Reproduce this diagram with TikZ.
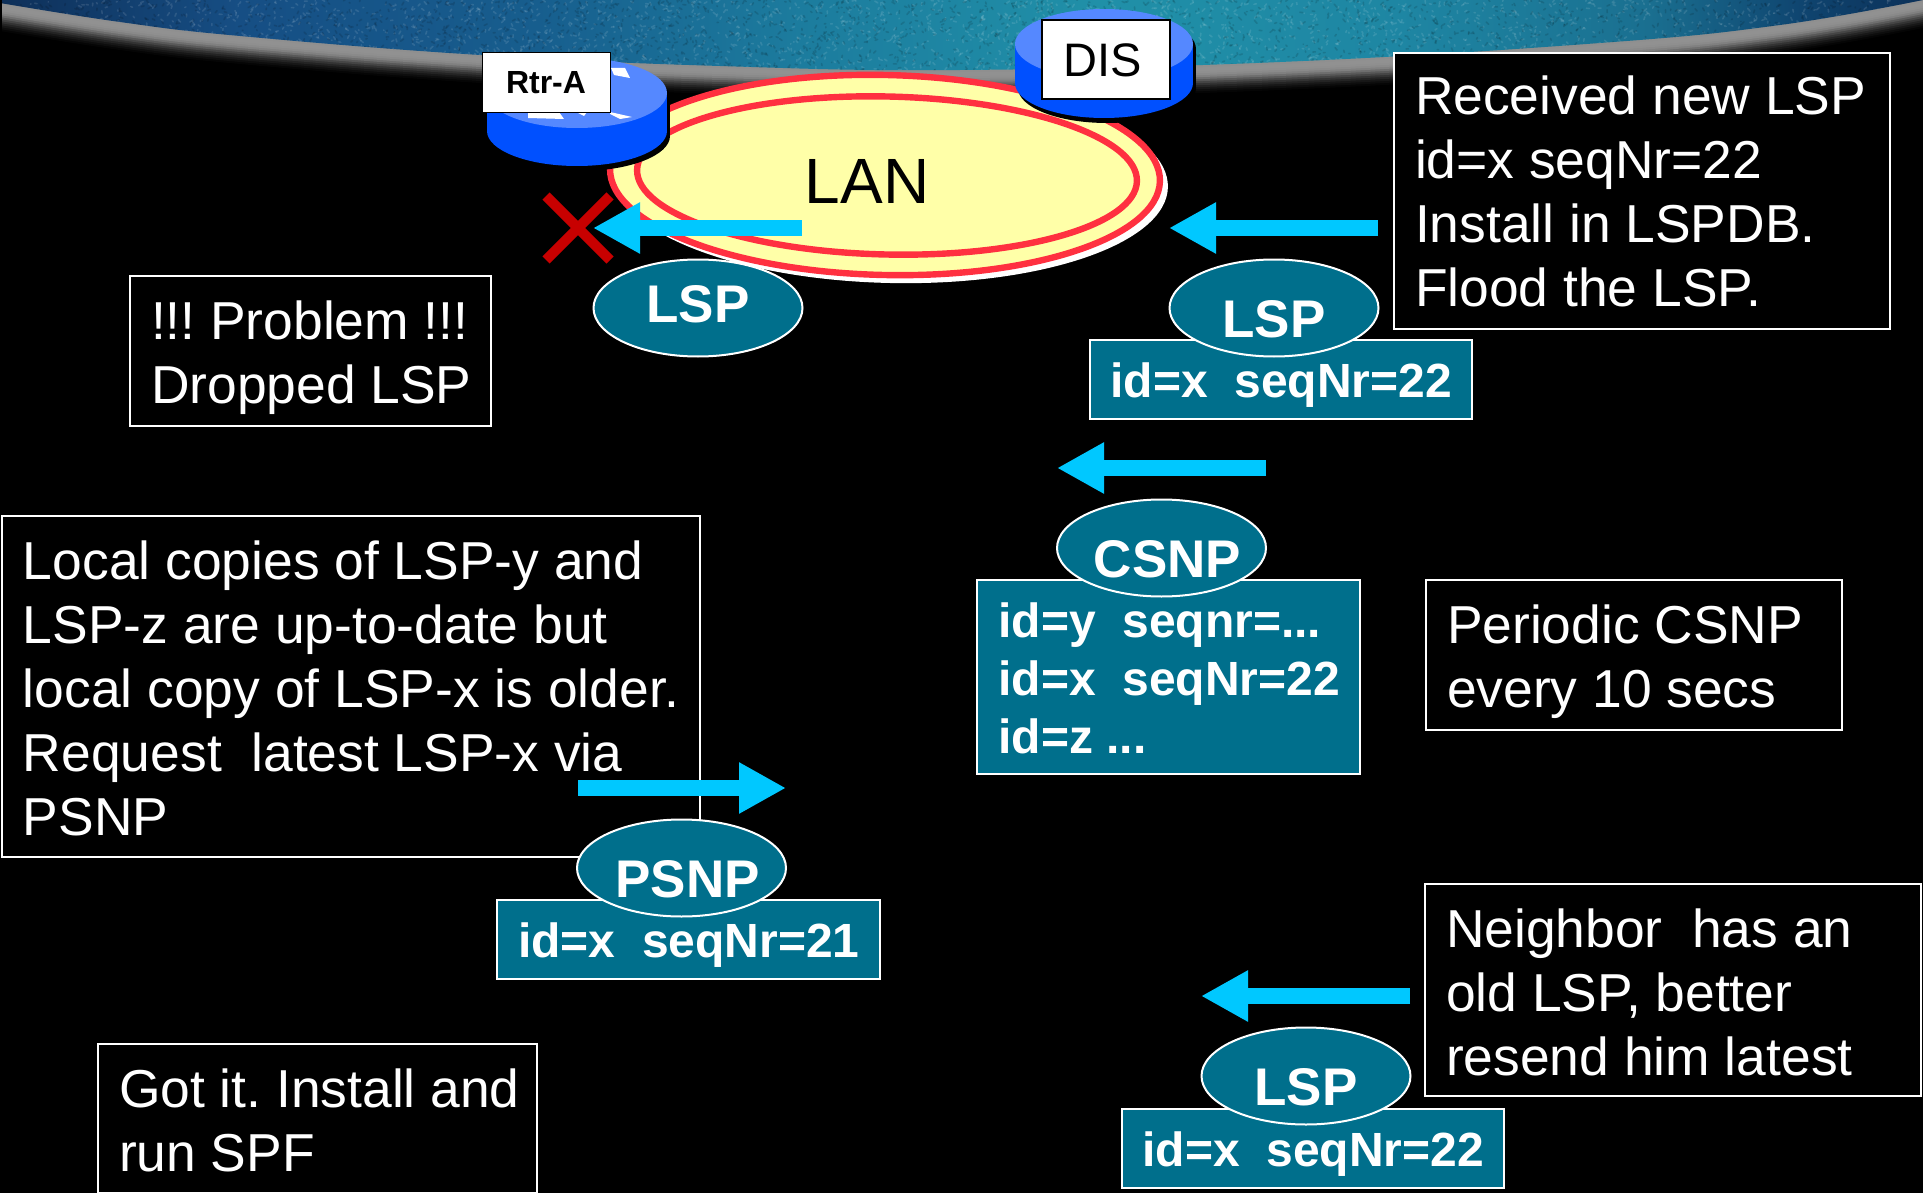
\documentclass[tikz,border=0pt]{standalone}
\usepackage{fontspec}
\setmainfont{Liberation Sans}
\usetikzlibrary{shapes.geometric,arrows.meta}
\definecolor{teal1}{HTML}{006F8C}
\definecolor{arrowblue}{HTML}{00C8FF}
\definecolor{lanyellow}{HTML}{FFFFA8}
\definecolor{lanred}{HTML}{FF3040}
\definecolor{rtop}{HTML}{5588FF}
\definecolor{rside}{HTML}{0050FF}
\definecolor{xred}{HTML}{C80000}
\definecolor{skya}{HTML}{0E2F58}
\definecolor{skyb}{HTML}{164E84}
\definecolor{skyc}{HTML}{175E8E}
\definecolor{skyd}{HTML}{1C7C9E}
\definecolor{skye}{HTML}{2090A8}
\definecolor{skyf}{HTML}{1E86A3}
\definecolor{skyg}{HTML}{1A6F90}
\definecolor{skyh}{HTML}{0F4570}
\definecolor{skyi}{HTML}{0C3058}
\pgfdeclarehorizontalshading{sky}{100bp}{
  color(0bp)=(skya);
  color(25bp)=(skya);
  color(31.2bp)=(skyb);
  color(39bp)=(skyc);
  color(45.8bp)=(skyd);
  color(53.6bp)=(skye);
  color(61.4bp)=(skyf);
  color(67.9bp)=(skyg);
  color(71.8bp)=(skyh);
  color(75bp)=(skyi);
  color(100bp)=(skyi)}
\newcommand\plainblk[3]{\raisebox{#2}[0pt][0pt]{\makebox[#1][l]{\fontsize{26.7pt}{32pt}\selectfont\frenchspacing\begin{tabular}[t]{@{}l@{}}#3\end{tabular}}}}
\newcommand\boldblk[3]{\raisebox{#2}[0pt][0pt]{\makebox[#1][l]{\fontsize{24pt}{29pt}\selectfont\bfseries\frenchspacing\begin{tabular}[t]{@{}l@{}}#3\end{tabular}}}}
\newcommand\elltext[3]{\raisebox{#1}[0pt][0pt]{\makebox[0pt]{\hspace*{#2}\fontsize{26.5pt}{30pt}\selectfont\bfseries #3}}}
\newcommand\cylinder[5]{% cx, top cy, bottom cy, rx, ry
  \fill[black] (#1+3,#2+5) ellipse [x radius=#4,y radius=#5];
  \fill[black] (#1+3-#4,#2+5) rectangle (#1+3+#4,#3+5);
  \fill[black] (#1+3,#3+5) ellipse [x radius=#4,y radius=#5];
  \fill[rside] (#1,#3) ellipse [x radius=#4,y radius=#5];
  \fill[rside] (#1-#4,#2) rectangle (#1+#4,#3);
  \fill[rtop] (#1,#2) ellipse [x radius=#4,y radius=#5];
}
\tikzset{
  wbox/.style={rectangle,draw=white,fill=black,line width=1pt,inner sep=0pt,text=white},
  tbox/.style={rectangle,draw=white,fill=teal1,line width=1pt,inner sep=0pt,text=white},
  pkt/.style={ellipse,draw=white,fill=teal1,line width=1pt,inner sep=0pt,text=white,minimum width=104.5pt,minimum height=48.5pt},
  flow/.style={line width=8pt,arrowblue,-{Triangle[length=23.5pt,width=24pt]}},
  lanring/.style={ellipse,inner sep=0pt,rotate=-1.3},
  tag/.style={rectangle,fill=white,draw=black,inner sep=0pt,text=black},
  cross/.style={line width=5pt,xred}
}
\begin{document}
\begin{tikzpicture}[x=0.5pt,y=-0.5pt]
\useasboundingbox (0,0) rectangle (1923,1193);
\fill[black] (0,0) rectangle (1923,1193);
% fringe of the sky
\foreach \d/\c in {28/2,26/5,24/9,22/14,20/20,18/27,16/35,14/43,12/50,10/54,8/56,6/57,4/57,2/56}{
  \begin{scope}[yshift=-\d*0.5pt]
  \fill[black!\the\numexpr100-\c\relax!white] (0,-40) -- plot[smooth,tension=0.7] coordinates {(0,3) (120,22) (240,36) (480,55) (720,66) (960,70) (1280,62) (1600,43) (1780,25) (1923,0)} -- (1923,-40) -- cycle;
  \end{scope}
}
% sky
\begin{scope}
\clip (0,0) -- plot[smooth,tension=0.7] coordinates {(0,3) (120,22) (240,36) (480,55) (720,66) (960,70) (1280,62) (1600,43) (1780,25) (1923,0)} -- cycle;
\shade[shading=sky] (0,0) rectangle (1923,80);
\pgfmathsetseed{7}
\foreach \i in {1,...,2400}{
  \pgfmathsetmacro\px{rnd*1923}
  \pgfmathsetmacro\py{rnd*75}
  \pgfmathsetmacro\wx{rnd*6-3}
  \pgfmathsetmacro\wy{rnd*6-3}
  \draw[white,opacity=0.11,line width=0.8pt,line cap=round] (\px,\py) -- ++(\wx,\wy);
  \pgfmathsetmacro\qx{rnd*1923}
  \pgfmathsetmacro\qy{rnd*75}
  \draw[black,opacity=0.13,line width=0.8pt,line cap=round] (\qx,\qy) -- ++(\wy,\wx);
}
\end{scope}
\fill[black] (0,0) rectangle (2,1193);
% LAN
\node[lanring,fill=white,minimum width=277pt,minimum height=102pt] (lanshadow) at (891,181) {};
\node[lanring,fill=lanyellow,draw=lanred,line width=3.2pt,minimum width=275pt,minimum height=100pt] (lanouter) at (885,175) {};
\node[lanring,draw=lanred,line width=3.2pt,minimum width=250pt,minimum height=79pt] (laninner) at (887,175.5) {};
\node[inner sep=0pt,text=black] (lan) at (867,175.5) {\raisebox{-14pt}[0pt][0pt]{\fontsize{32pt}{34pt}\selectfont LAN}};
% routers
\cylinder{577}{93}{131}{90}{35}
\fill[white] (611,68) -- (625,68) -- (630,78) -- (614,75) -- cycle;
\fill[white] (528,112) -- (559,112) -- (564,119) -- (528,118) -- cycle;
\fill[white] (576,112) -- (587,112) -- (584,116) -- cycle;
\fill[white] (610,112) -- (632,117) -- (620,119) -- (610,114) -- cycle;
\cylinder{1104}{44}{83}{89}{35}
\node[tag,line width=0.5pt,minimum width=64pt,minimum height=30pt] (rtra) at (546,82.5) {\raisebox{-5.5pt}[0pt][0pt]{\fontsize{16pt}{18pt}\selectfont\bfseries Rtr-A}};
\node[tag,line width=1pt,minimum width=64pt,minimum height=39.5pt] (dis) at (1106,59.5) {\raisebox{-8.5pt}[0pt][0pt]{\hspace*{-3.7pt}\fontsize{23.5pt}{26pt}\selectfont DIS}};
% dropped marker
\coordinate (xa) at (546,196); \coordinate (xb) at (610,260);
\coordinate (xc) at (610,196); \coordinate (xd) at (546,260);
\draw[cross] (xa) -- (xb);
\draw[cross] (xc) -- (xd);
% text boxes
\node[wbox,minimum width=248pt,minimum height=138pt] (received) at (1642,191) {\plainblk{227pt}{38pt}{Received new LSP\\id=x seqNr=22\\Install in LSPDB.\\Flood the LSP.}};
\node[wbox,minimum width=180.5pt,minimum height=75pt] (problem) at (310.5,351) {\plainblk{159.5pt}{6pt}{!!! Problem !!!\\Dropped LSP}};
\node[wbox,minimum width=349pt,minimum height=170.5pt] (local) at (351,686.5) {\plainblk{328pt}{53.75pt}{Local copies of LSP-y and\\LSP-z are up-to-date but\\local copy of LSP-x is older.\\Request~~latest LSP-x via\\PSNP}};
\node[wbox,minimum width=208pt,minimum height=75pt] (periodic) at (1634,655) {\plainblk{187pt}{6pt}{Periodic CSNP\\every 10 secs}};
\node[wbox,minimum width=248pt,minimum height=106pt] (neighbor) at (1673,990) {\plainblk{227pt}{21.5pt}{Neighbor~~has an\\old LSP, better\\resend him latest}};
\node[wbox,minimum width=219.5pt,minimum height=74.5pt] (gotit) at (317.5,1118) {\plainblk{198.5pt}{5.5pt}{Got it. Install and\\run SPF}};
% packet contents
\node[tbox,minimum width=191pt,minimum height=39.5pt] (lspbox) at (1281,379.5) {\boldblk{170.5pt}{-8.75pt}{id=x~~seqNr=22}};
\node[tbox,minimum width=191.5pt,minimum height=97pt] (csnpbox) at (1168.5,677) {\boldblk{170pt}{20pt}{id=y~~seqnr=...\\id=x~~seqNr=22\\id=z ...}};
\node[tbox,minimum width=191.5pt,minimum height=39.5pt] (psnpbox) at (688.5,939.5) {\boldblk{170.5pt}{-8.75pt}{id=x~~seqNr=21}};
\node[tbox,minimum width=191pt,minimum height=39.5pt] (lspbox2) at (1313,1148) {\boldblk{170.5pt}{-9pt}{id=x~~seqNr=22}};
% packets
\node[pkt] (lspa) at (698,308) {\elltext{-7pt}{0pt}{LSP}};
\node[pkt] (lspb) at (1274,308) {\elltext{-14.5pt}{0pt}{LSP}};
\node[pkt] (csnp) at (1161.5,548) {\elltext{-14.5pt}{6pt}{CSNP}};
\node[pkt] (psnp) at (681.5,868) {\elltext{-14.5pt}{6pt}{PSNP}};
\node[pkt] (lspc) at (1306,1076) {\elltext{-14.5pt}{0pt}{LSP}};
% flow arrows
\coordinate (a1s) at (802,228); \coordinate (a1e) at (593,228);
\coordinate (a2s) at (1378,228); \coordinate (a2e) at (1169,228);
\coordinate (a3s) at (1266,468); \coordinate (a3e) at (1057,468);
\coordinate (a4s) at (578,788); \coordinate (a4e) at (786,788);
\coordinate (a5s) at (1410,996); \coordinate (a5e) at (1201,996);
\draw[flow] (a1s) -- (a1e);
\draw[flow] (a2s) -- (a2e);
\draw[flow] (a3s) -- (a3e);
\draw[flow] (a4s) -- (a4e);
\draw[flow] (a5s) -- (a5e);
\end{tikzpicture}
\end{document}
